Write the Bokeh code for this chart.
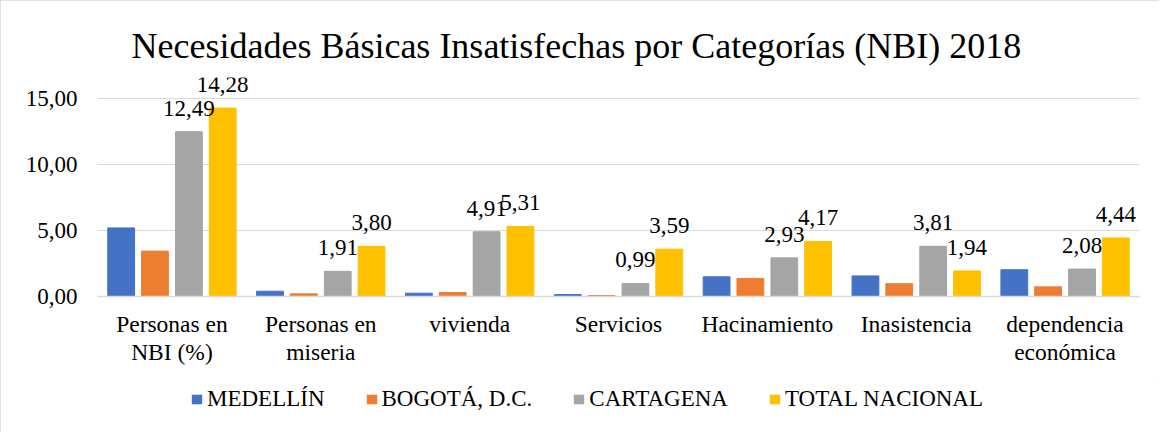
from bokeh.plotting import figure
from bokeh.layouts import column
from bokeh.models import (ColumnDataSource, FactorRange, Range1d, FixedTicker, Legend,
                          LegendItem, LabelSet)
from bokeh.transform import dodge
from bokeh.embed import file_html
from bokeh.resources import INLINE

categories = ["Personas en\nNBI (%)", "Personas en\nmiseria", "vivienda", "Servicios",
              "Hacinamiento", "Inasistencia", "dependencia\necon\u00f3mica"]
medellin = [5.20, 0.40, 0.25, 0.15, 1.49, 1.56, 2.03]
bogota = [3.44, 0.20, 0.30, 0.07, 1.37, 0.97, 0.73]
cartagena = [12.49, 1.91, 4.91, 0.99, 2.93, 3.81, 2.08]
total_nacional = [14.28, 3.80, 5.31, 3.59, 4.17, 1.94, 4.44]
series_names = ["MEDELL\u00cdN", "BOGOT\u00c1, D.C.", "CARTAGENA", "TOTAL NACIONAL"]
y_ticks = [0, 5, 10, 15]
y_tick_labels = ["0,00", "5,00", "10,00", "15,00"]

colors = ["#4472C4", "#ED7D31", "#A5A5A5", "#FFC000"]
FONT = "'Liberation Serif', 'Times New Roman', serif"

def fmt(v):
    return f"{v:.2f}".replace(".", ",")

source = ColumnDataSource(data=dict(
    cat=categories,
    s0=medellin, s1=bogota, s2=cartagena, s3=total_nacional,
    l2=[fmt(v) for v in cartagena], l3=[fmt(v) for v in total_nacional],
))

W = 1159
p = figure(width=W, height=378, x_range=FactorRange(*categories),
           y_range=Range1d(0, 16.6), output_backend="svg", toolbar_location=None,
           min_border_left=97, min_border_right=20, min_border_top=77,
           min_border_bottom=82)

p.title.text = "Necesidades B\u00e1sicas Insatisfechas por Categor\u00edas (NBI) 2018"
p.title.text_font = FONT
p.title.text_font_size = "36px"
p.title.text_font_style = "normal"
p.title.text_color = "#000000"
p.title.align = "left"
p.title.offset = 34
p.title.standoff = 23

offsets = [-0.341, -0.114, 0.114, 0.341]
for i in range(4):
    p.vbar(x=dodge("cat", offsets[i], range=p.x_range), top=f"s{i}", width=0.18,
           source=source, fill_color=colors[i], line_color=colors[i])

for i in (2, 3):
    labels = LabelSet(x=dodge("cat", offsets[i], range=p.x_range), y=f"s{i}", text=f"l{i}",
                      source=source, text_align="center", text_baseline="alphabetic",
                      y_offset=16, text_font=FONT, text_font_size="23px",
                      text_color="#000000")
    p.add_layout(labels)

p.outline_line_color = None
p.background_fill_color = "white"
p.border_fill_color = "white"

p.xgrid.grid_line_color = None
p.ygrid.grid_line_color = "#D9D9D9"
p.ygrid.grid_line_width = 1

p.yaxis.ticker = FixedTicker(ticks=y_ticks)
p.yaxis.major_label_overrides = {t: l for t, l in zip(y_ticks, y_tick_labels)}
p.yaxis.axis_line_color = None
p.yaxis.major_tick_line_color = None
p.yaxis.minor_tick_line_color = None
p.yaxis.major_label_text_font = FONT
p.yaxis.major_label_text_font_size = "23px"
p.yaxis.major_label_text_color = "#000000"
p.yaxis.major_label_standoff = 14

p.xaxis.axis_line_color = "#D9D9D9"
p.xaxis.axis_line_width = 1.5
p.xaxis.major_tick_line_color = None
p.xaxis.minor_tick_line_color = None
p.xaxis.major_label_text_font = FONT
p.xaxis.major_label_text_font_size = "23.5px"
p.xaxis.major_label_text_color = "#000000"
p.xaxis.major_label_text_line_height = 1.1
p.xaxis.major_label_standoff = 8

# legend strip
pl = figure(width=W, height=54, x_range=Range1d(0, 1), y_range=Range1d(0, 1),
            output_backend="svg", toolbar_location=None,
            x_axis_type=None, y_axis_type=None,
            min_border_left=0, min_border_right=0, min_border_top=0, min_border_bottom=0)
pl.outline_line_color = None
pl.xgrid.grid_line_color = None
pl.ygrid.grid_line_color = None
pl.background_fill_color = "white"
pl.border_fill_color = "white"
dummy = []
for i in range(4):
    r = pl.vbar(x=[0.5], top=[-2], bottom=[-3], width=0, fill_color=colors[i], line_color=None)
    dummy.append(r)

legend = Legend(items=[LegendItem(label=series_names[i], renderers=[dummy[i]]) for i in range(4)],
                orientation="horizontal", location=(93, 20),
                border_line_color=None, background_fill_alpha=0,
                label_text_font=FONT, label_text_font_size="23px", label_text_color="#000000",
                glyph_width=13, glyph_height=12, label_standoff=4, spacing=40,
                padding=0, margin=0)
pl.add_layout(legend)

layout = column(p, pl, spacing=0)
layout.styles = {"outline": "1px solid #d9d9d9", "outline-offset": "-1px"}

open("out.html", "w").write(file_html(layout, INLINE))
